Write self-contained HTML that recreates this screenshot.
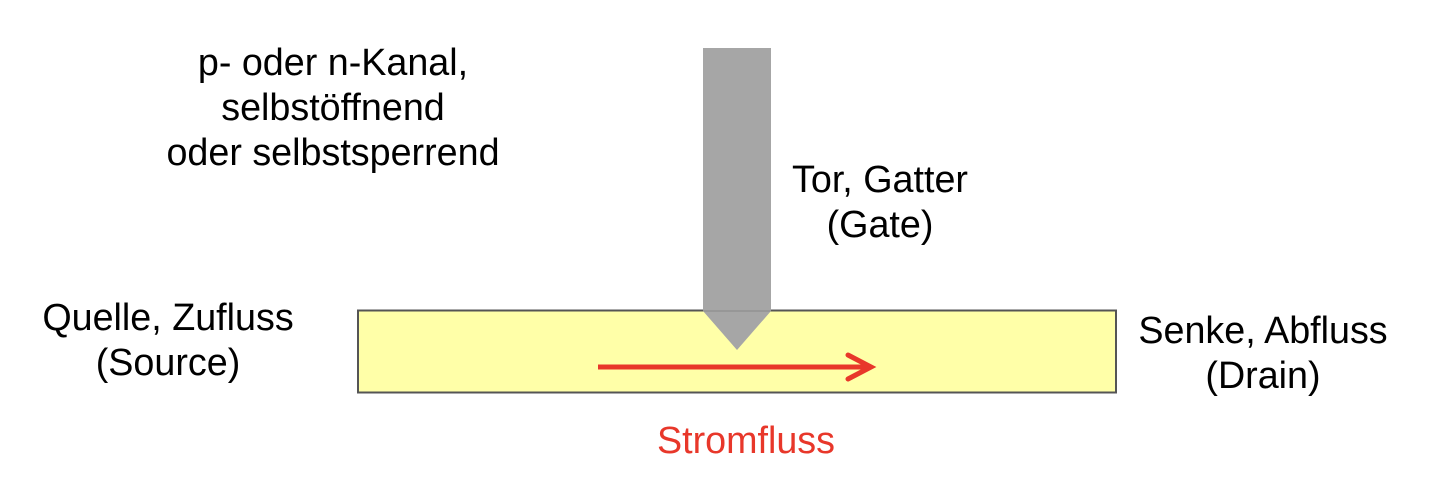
<!DOCTYPE html>
<html><head><style>
body{margin:0;width:1432px;height:486px;background:#fff;position:relative;overflow:hidden;font-family:"Liberation Sans",Arial,sans-serif;}
.t{position:absolute;font-size:37.7px;line-height:45px;color:#000;text-align:center;white-space:nowrap;}
</style></head><body>
<svg width="1432" height="486" style="position:absolute;left:0;top:0">
<rect x="358" y="310.5" width="758" height="82" fill="#ffffa8" stroke="#555" stroke-width="2"/>
<polygon points="703,48 771,48 771,311 737,350 703,311" fill="#a6a6a6"/>
<line x1="703" y1="311" x2="771" y2="311" stroke="#888" stroke-width="1"/>
<line x1="598" y1="367" x2="870" y2="367" stroke="#e8372a" stroke-width="5"/>
<polyline points="848,355 871,367 848,379" fill="none" stroke="#e8372a" stroke-width="5" stroke-linecap="round" stroke-linejoin="miter"/>
</svg>
<div class="t" style="left:133px;top:40px;width:400px">p- oder n-Kanal,<br>selbstöffnend<br>oder selbstsperrend</div>
<div class="t" style="left:730px;top:157px;width:300px">Tor, Gatter<br>(Gate)</div>
<div class="t" style="left:18px;top:295px;width:300px">Quelle, Zufluss<br>(Source)</div>
<div class="t" style="left:1113px;top:308px;width:300px">Senke, Abfluss<br>(Drain)</div>
<div class="t" style="left:596px;top:418px;width:300px;color:#e8372a">Stromfluss</div>
</body></html>
